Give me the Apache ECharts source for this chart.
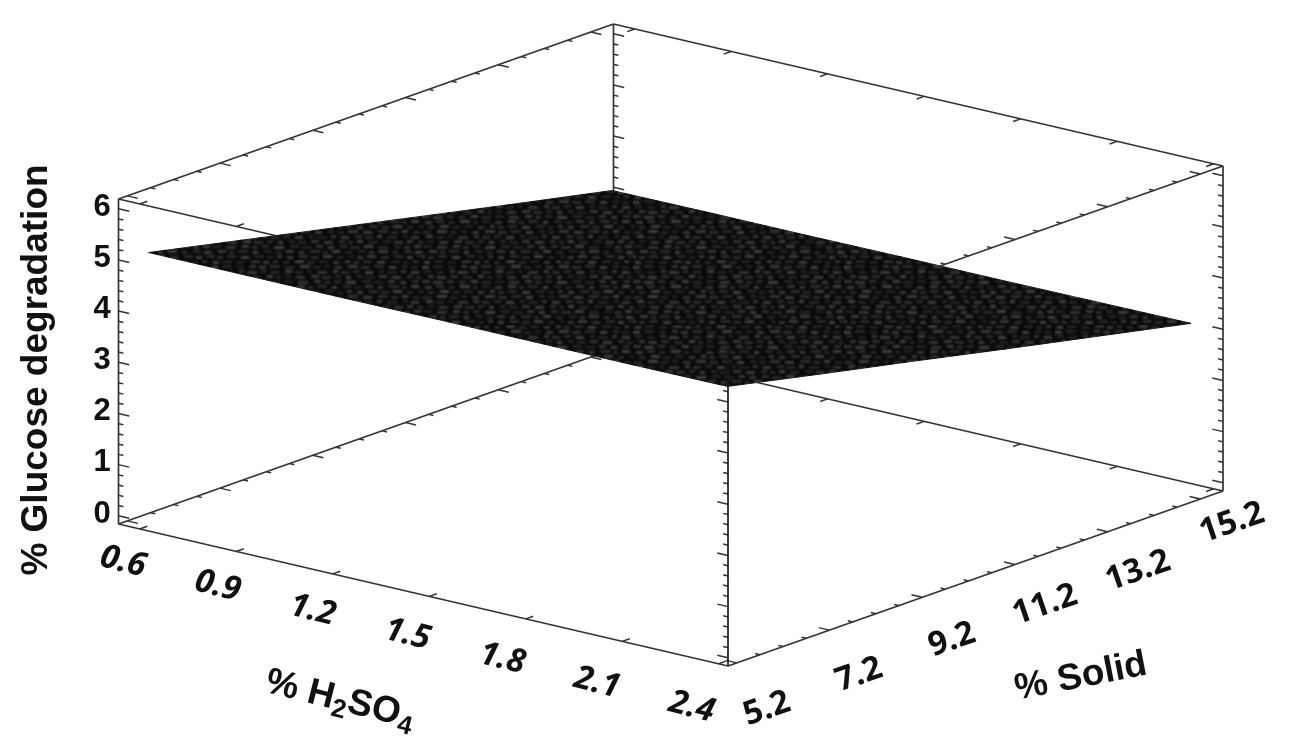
<!DOCTYPE html>
<html><head><meta charset="utf-8">
<style>html,body{margin:0;padding:0;background:#fff}#c{width:1314px;height:749px}</style>
<script src="https://cdn.jsdelivr.net/npm/echarts@6/dist/echarts.min.js"></script>
</head><body><div id="c"></div>
<script>
// ---- data ----
const h2so4Ticks = [0.6, 0.9, 1.2, 1.5, 1.8, 2.1, 2.4];
const solidTicks = [5.2, 7.2, 9.2, 11.2, 13.2, 15.2];
const glucoseTicks = [0, 1, 2, 3, 4, 5, 6];
// % glucose degradation on the surface, one list per % H2SO4, one value per % Solid
const surfaceAt06 = [5.18, 4.78, 4.38, 3.98, 3.58, 3.19];
const surfaceAt09 = [5.18, 4.78, 4.39, 3.99, 3.59, 3.20];
const surfaceAt12 = [5.18, 4.79, 4.39, 3.99, 3.60, 3.20];
const surfaceAt15 = [5.19, 4.79, 4.39, 4.00, 3.60, 3.21];
const surfaceAt18 = [5.19, 4.79, 4.40, 4.00, 3.61, 3.21];
const surfaceAt21 = [5.19, 4.80, 4.40, 4.01, 3.61, 3.22];
const surfaceAt24 = [5.20, 4.80, 4.41, 4.01, 3.62, 3.23];
const surfaceRows = [surfaceAt06, surfaceAt09, surfaceAt12, surfaceAt15, surfaceAt18, surfaceAt21, surfaceAt24];

// ---- axis ranges and oblique view ----
const xRange = [0.534, 2.429], sRange = [5.01, 15.69], zRange = [-0.16, 6.19];
const origin = [118.5, 524], vecA = [609.5, 142], vecB = [495, -175], vecC = [0, -325];
function project(x, s, z) {
  const fa = (x - xRange[0]) / (xRange[1] - xRange[0]);
  const fb = (s - sRange[0]) / (sRange[1] - sRange[0]);
  const fc = (z - zRange[0]) / (zRange[1] - zRange[0]);
  return [origin[0] + fa * vecA[0] + fb * vecB[0] + fc * vecC[0],
          origin[1] + fa * vecA[1] + fb * vecB[1] + fc * vecC[1]];
}
const unitA = [0.974, 0.227], unitB = [0.943, -0.333];

// ---- frame edges ----
const [x0, x1] = xRange, [s0, s1] = sRange, [z0, z1] = zRange;
const backEdges = [
  [x0,s0,z1, x1,s0,z1], [x0,s1,z1, x1,s1,z1], [x0,s0,z1, x0,s1,z1], [x1,s0,z1, x1,s1,z1],
  [x0,s0,z0, x1,s0,z0], [x0,s1,z0, x1,s1,z0], [x0,s0,z0, x0,s1,z0], [x1,s0,z0, x1,s1,z0],
  [x0,s0,z0, x0,s0,z1], [x0,s1,z0, x0,s1,z1], [x1,s1,z0, x1,s1,z1]
];
const frontEdge = [[x1,s0,z0, x1,s0,z1]];

// ---- tick marks: [x, s, z, dirX, dirY, length] ----
const ticks = [];
glucoseTicks.forEach((t, i) => {
  for (let k = 0; k < 5; k++) {
    const z = t + k * 0.2;
    if (z > z1) break;
    const len = k === 0 ? 11 : 5;
    ticks.push([x0, s0, z,  unitA[0],  unitA[1], len]);
    ticks.push([x0, s1, z,  unitA[0],  unitA[1], len]);
    ticks.push([x1, s0, z, -unitA[0], -unitA[1], len]);
    ticks.push([x1, s1, z, -unitA[0], -unitA[1], len]);
  }
});
h2so4Ticks.forEach(t => {
  ticks.push([t, s0, z0,  unitB[0],  unitB[1], 8]);
  ticks.push([t, s0, z1,  unitB[0],  unitB[1], 8]);
  ticks.push([t, s1, z0, -unitB[0], -unitB[1], 8]);
  ticks.push([t, s1, z1, -unitB[0], -unitB[1], 8]);
});
solidTicks.forEach((t, i) => {
  for (let k = 0; k < 4; k++) {
    const s = t + k * 0.5;
    if (s > s1 || (i === solidTicks.length - 1 && k > 0)) break;
    const len = k === 0 ? 11 : 5;
    ticks.push([x0, s, z0,  unitA[0],  unitA[1], len]);
    ticks.push([x0, s, z1,  unitA[0],  unitA[1], len]);
    ticks.push([x1, s, z0, -unitA[0], -unitA[1], len]);
    ticks.push([x1, s, z1, -unitA[0], -unitA[1], len]);
  }
});

// ---- surface cells ----
const cells = [];
for (let i = 0; i < h2so4Ticks.length - 1; i++)
  for (let j = 0; j < solidTicks.length - 1; j++) cells.push([i, j]);

// ---- mesh texture (a fixed brick weave, styling only) ----
function meshTexture() {
  const W = 211, H = 65;
  const c = document.createElement('canvas');
  c.width = W; c.height = H;
  const g = c.getContext('2d');
  g.fillStyle = '#0a0a0a'; g.fillRect(0, 0, W, H);
  g.filter = 'blur(0.8px)';
  const shades = ['#2a2a2a', '#3c3c3c', '#222222', '#424242', '#2e2e2e', '#363636', '#252525'];
  for (let row = 0; row * 5 < H; row++) {
    let x = (row * 37) % 11 - 6, k = row * 3;
    while (x < W) {
      const len = 5 + (k * k + row) % 6, gap = 3 + (k * 5 + row * 2) % 4;
      g.fillStyle = shades[(k * 3 + row) % shades.length];
      g.fillRect(x, row * 5 + (k % 2), len, 3);
      x += len + gap; k++;
    }
  }
  return { image: c, repeat: 'repeat' };
}
const mesh = meshTexture();

const labelFont = '"Open Sans","Lato",sans-serif';
const sansFont = '"Liberation Sans",Arial,sans-serif';
const solidLabelSpots = [[767, 709], [859, 675], [952, 640], [1045, 605], [1138, 571], [1232, 523]];

function edgeSeries(data, color, width, z) {
  return {
    type: 'custom', coordinateSystem: 'cartesian2d', silent: true, clip: false, z: z, data: data,
    renderItem: (p, api) => {
      const a = api.coord(project(api.value(0), api.value(1), api.value(2)));
      const b = api.coord(project(api.value(3), api.value(4), api.value(5)));
      return { type: 'line', shape: { x1: a[0], y1: a[1], x2: b[0], y2: b[1] },
               style: { stroke: color, lineWidth: width } };
    }
  };
}
function textSeries(values, place, font, rotationDeg, fmt) {
  return {
    type: 'custom', coordinateSystem: 'cartesian2d', silent: true, clip: false, z: 6,
    data: values.map((v, i) => [i]),
    renderItem: (p, api) => {
      const i = p.dataIndex, pos = place(i);
      return { type: 'text', x: pos[0], y: pos[1], rotation: rotationDeg * Math.PI / 180,
        style: { text: fmt(values[i]), font: font, fill: '#111', align: 'center', verticalAlign: 'middle' } };
    }
  };
}

const chart = echarts.init(document.getElementById('c'), null, { renderer: 'canvas' });
chart.setOption({
  animation: false, backgroundColor: '#fff',
  grid: { left: 0, right: 0, top: 0, bottom: 0 },
  xAxis: { type: 'value', min: 0, max: 1314, show: false },
  yAxis: { type: 'value', min: 0, max: 749, inverse: true, show: false },
  series: [
    edgeSeries(backEdges, '#333', 1.7, 1),
    {
      type: 'custom', coordinateSystem: 'cartesian2d', silent: true, clip: false, z: 2, data: ticks,
      renderItem: (p, api) => {
        const a = api.coord(project(api.value(0), api.value(1), api.value(2)));
        const len = api.value(5);
        return { type: 'line', shape: { x1: a[0], y1: a[1], x2: a[0] + api.value(3) * len, y2: a[1] + api.value(4) * len },
                 style: { stroke: '#333', lineWidth: 1.5 } };
      }
    },
    {
      type: 'custom', coordinateSystem: 'cartesian2d', silent: true, clip: false, z: 3, data: cells,
      renderItem: (p, api) => {
        const i = api.value(0), j = api.value(1);
        const pt = (a, b) => api.coord(project(h2so4Ticks[a], solidTicks[b], surfaceRows[a][b]));
        return { type: 'polygon',
                 shape: { points: [pt(i, j), pt(i + 1, j), pt(i + 1, j + 1), pt(i, j + 1)] },
                 style: { fill: mesh, stroke: mesh, lineWidth: 1 } };
      }
    },
    edgeSeries(frontEdge, '#1c1c1c', 1.7, 4),
    textSeries(glucoseTicks, i => [102, 514 - i * 51.1], 'bold 31px ' + sansFont, 0, v => String(v)),
    textSeries(h2so4Ticks, i => [123 + i * 94.8, 562 + i * 24.2], 'italic bold 33px ' + labelFont, -14, v => v.toFixed(1)),
    textSeries(solidTicks, i => solidLabelSpots[i], 'bold 33px ' + labelFont, 19, v => v.toFixed(1)),
    textSeries(['% Glucose degradation'], i => [37, 370], 'bold 37px ' + sansFont, 90, v => v),
    textSeries(['% Solid'], i => [1081, 677], 'bold 37px ' + sansFont, 11, v => v),
    {
      type: 'custom', coordinateSystem: 'cartesian2d', silent: true, clip: false, z: 6, data: [[0]],
      renderItem: () => ({
        type: 'text', x: 340, y: 700, rotation: -14 * Math.PI / 180,
        style: {
          text: '% H{sub|2}SO{sub|4}', font: 'bold 37px ' + sansFont, fill: '#111',
          align: 'center', verticalAlign: 'middle',
          rich: { sub: { font: 'bold 26px ' + sansFont, fill: '#111', padding: [20, 0, 0, 0] } }
        }
      })
    }
  ]
});
</script></body></html>
